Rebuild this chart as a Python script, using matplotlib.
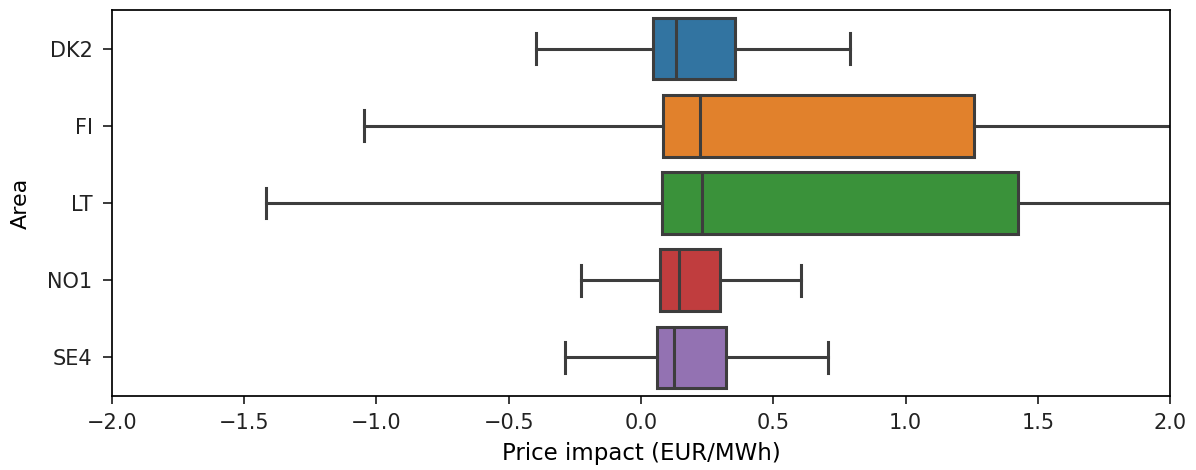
import numpy as np
import matplotlib.pyplot as plt

areas = ['DK2', 'FI', 'LT', 'NO1', 'SE4']
whislo = [-0.397, -1.048, -1.418, -0.228, -0.287]
q1 = [0.047, 0.084, 0.079, 0.072, 0.059]
med = [0.132, 0.223, 0.229, 0.145, 0.126]
q3 = [0.355, 1.259, 1.427, 0.299, 0.321]
whishi = [0.790, 2.60, 2.90, 0.605, 0.708]
colors = ['#3274a1', '#e1812c', '#3a923a', '#c03d3e', '#9372b2']

stats = []
for i, a in enumerate(areas):
    stats.append(dict(label=a, whislo=whislo[i], q1=q1[i], med=med[i],
                      q3=q3[i], whishi=whishi[i], fliers=[]))

plt.rcParams['axes.linewidth'] = 1.25
plt.rcParams['xtick.major.width'] = 1.25
plt.rcParams['ytick.major.width'] = 1.25
plt.rcParams['xtick.major.size'] = 6
plt.rcParams['ytick.major.size'] = 6.5
plt.rcParams['xtick.major.pad'] = 6.5
plt.rcParams['ytick.major.pad'] = 7.5

fig = plt.figure(figsize=(11.96, 4.70), dpi=100)
ax = fig.add_axes([0.0936, 0.1574, 0.8847, 0.8213])

gray = '#3d3d3d'
lw = 2.2
pos = np.arange(len(areas))
bp = ax.bxp(stats, positions=pos, vert=False, widths=0.8, patch_artist=True,
            showfliers=False,
            boxprops=dict(edgecolor=gray, linewidth=lw),
            medianprops=dict(color=gray, linewidth=lw),
            whiskerprops=dict(color=gray, linewidth=lw),
            capprops=dict(color=gray, linewidth=lw),
            capwidths=0.4)
for box, c in zip(bp['boxes'], colors):
    box.set_facecolor(c)

ax.set_xlim(-2, 2)
ax.set_ylim(4.5, -0.5)
ax.set_yticks(pos)
ax.set_yticklabels(areas)
ax.set_xticks(np.arange(-2, 2.01, 0.5))
ax.set_xlabel('Price impact (EUR/MWh)', fontsize=16.5, labelpad=6)
ax.set_ylabel('Area', fontsize=16, labelpad=12)
ax.tick_params(labelsize=15, colors='#222222', labelcolor='#222222')

fig.savefig('out.png', dpi=100)
